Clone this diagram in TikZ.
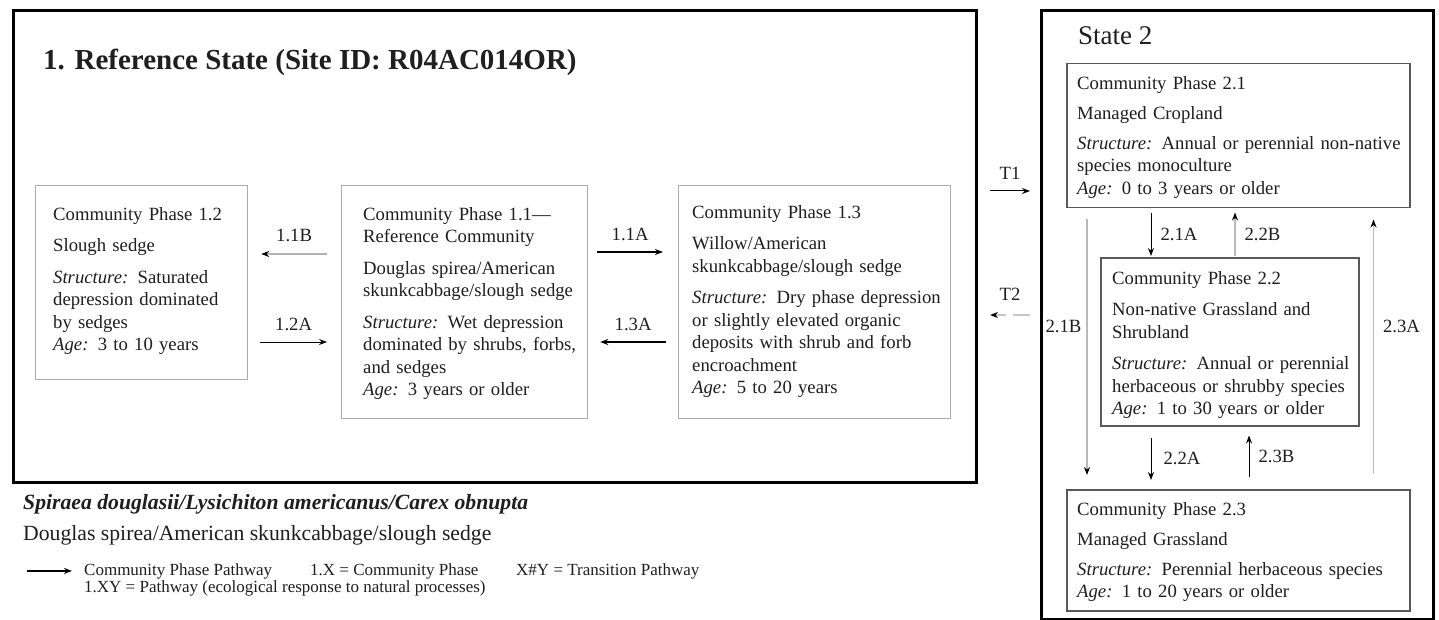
\documentclass[tikz,border=0pt]{standalone}
\usepackage{fontspec}
\setmainfont{Liberation Serif}
\usetikzlibrary{arrows.meta,calc}

\newcommand{\bodysize}{\fontsize{18.7}{22.5}\selectfont}
\newcommand{\legsize}{\fontsize{17}{17}\selectfont}

\begin{document}
\begin{tikzpicture}[
    x=1pt, y=-1pt,
    statebox/.style={
        draw=black,
        line width=3pt,
        anchor=north west,
        inner sep=0pt
    },
    phasebox/.style={draw=gray!65, line width=1.2pt, anchor=north west, inner sep=0pt},
    phaseboxtwo/.style={draw=black!65, line width=1.5pt, anchor=north west, inner sep=0pt},
    phasetext/.style={
        anchor=north west,
        inner sep=0pt,
        align=left,
        font=\bodysize,
        text=black!88
    },
    plain/.style={inner sep=0pt, text=black!88},
    lbl/.style={inner sep=0pt, font=\bodysize, text=black!88},
    pathway/.style={-{Stealth[length=8pt,width=6pt]}, line width=1pt, draw=black},
    grayway/.style={-{Stealth[length=8pt,width=6pt,color=black]}, line width=1.6pt, draw=gray!55}
]

\fill[white] (0,0) rectangle (1439,620);
\useasboundingbox (0,0) rectangle (1439,620);

% state frames
\node[statebox, minimum width=963pt, minimum height=472pt] (state1) at (12,9) {};
\node[statebox, minimum width=392pt, minimum height=609pt] (state2) at (1040,9) {};

\node[plain, anchor=base west, font=\fontsize{29}{34}\selectfont\bfseries] (title1) at (43,70)
    {1. Reference State (Site ID: R04AC014OR)};
\node[plain, anchor=base west, font=\fontsize{27}{32}\selectfont] (title2) at (1078,45) {State 2};

% reference state phases
\node[phasebox, minimum width=212pt, minimum height=194pt] (p12) at (35,185) {};
\node[phasetext, text width=190pt] (p12txt) at ($(p12.north west)+(18,22)$) {
Community Phase 1.2\\[9pt]
Slough sedge\\[9pt]
\textit{Structure:} Saturated\\
depression dominated\\
by sedges\\
\textit{Age:} 3 to 10 years
};

\node[phasebox, minimum width=246pt, minimum height=233pt] (p11) at (341,185) {};
\node[phasetext, text width=222pt] (p11txt) at ($(p11.north west)+(22,22)$) {
Community Phase 1.1—\\
Reference Community\\[9pt]
Douglas spirea/American\\
skunkcabbage/slough sedge\\[9pt]
\textit{Structure:} Wet depression\\
dominated by shrubs, forbs,\\
and sedges\\
\textit{Age:} 3 years or older
};

\node[phasebox, minimum width=272pt, minimum height=233pt] (p13) at (678,185) {};
\node[phasetext, text width=256pt] (p13txt) at ($(p13.north west)+(14,20)$) {
Community Phase 1.3\\[9pt]
Willow/American\\
skunkcabbage/slough sedge\\[9pt]
\textit{Structure:} Dry phase depression\\
or slightly elevated organic\\
deposits with shrub and forb\\
encroachment\\
\textit{Age:} 5 to 20 years
};

% state 2 phases
\node[phaseboxtwo, minimum width=343pt, minimum height=144pt] (p21) at (1066,63) {};
\node[phasetext, text width=330pt] (p21txt) at ($(p21.north west)+(11,13)$) {
Community Phase 2.1\\[7.5pt]
Managed Cropland\\[7.5pt]
\textit{Structure:} Annual or perennial non-native\\
species monoculture\\
\textit{Age:} 0 to 3 years or older
};

\node[phaseboxtwo, minimum width=258pt, minimum height=168pt] (p22) at (1100,257) {};
\node[phasetext, text width=244pt] (p22txt) at ($(p22.north west)+(12,14)$) {
Community Phase 2.2\\[9pt]
Non-native Grassland and\\
Shrubland\\[9pt]
\textit{Structure:} Annual or perennial\\
herbaceous or shrubby species\\
\textit{Age:} 1 to 30 years or older
};

\node[phaseboxtwo, minimum width=343pt, minimum height=121pt] (p23) at (1066,489) {};
\node[phasetext, text width=330pt] (p23txt) at ($(p23.north west)+(11,13)$) {
Community Phase 2.3\\[7.5pt]
Managed Grassland\\[7.5pt]
\textit{Structure:} Perennial herbaceous species\\
\textit{Age:} 1 to 20 years or older
};

% pathways in state 1
\draw[grayway, line width=2.4pt, draw=gray!60] ($(p11.north west)+(-14,69)$) -- ($(p12.north east)+(13,69)$)
    node[lbl, midway, above=11pt] (l11b) {1.1B};
\draw[pathway] ($(p12.north east)+(12,157)$) -- ($(p11.north west)+(-14,157)$)
    node[lbl, midway, above=11pt] (l12a) {1.2A};
\draw[pathway, line width=1.3pt] ($(p11.north east)+(9,67)$) -- ($(p13.north west)+(-15,67)$)
    node[lbl, midway, above=11pt] (l11a) {1.1A};
\draw[pathway, line width=1.3pt] ($(p13.north west)+(-12,157)$) -- ($(p11.north east)+(12,157)$)
    node[lbl, midway, above=11pt] (l13a) {1.3A};

% transitions
\draw[pathway] ($(state1.north east)+(12,182)$) -- ($(state2.north west)+(-10,182)$)
    node[lbl, midway, above=11pt] (lt1) {T1};
\draw[pathway, line width=1.6pt, draw=gray!45, dash pattern=on 17pt off 7pt on 40pt off 0pt,
      -{Stealth[length=8pt,width=6pt,color=black]}]
    ($(state2.north west)+(-10,306)$) -- ($(state1.north east)+(12,306)$)
    node[lbl, midway, above=14pt] (lt2) {T2};

% pathways in state 2
\draw[pathway] ($(p21.south west)+(85,5)$) -- ($(p22.north west)+(51,-1)$)
    node[lbl, midway, right=9pt] (l21a) {2.1A};
\draw[grayway, line width=1.2pt] ($(p22.north west)+(135,-1)$) -- ($(p21.south west)+(169,4)$)
    node[lbl, midway, right=9pt] (l22b) {2.2B};
\draw[grayway, line width=1.2pt] ($(p21.south west)+(21,11)$) -- ($(p23.north west)+(21,-14)$)
    node[lbl, pos=0.42, left=5pt] (l21b) {2.1B};
\draw[grayway, line width=1.2pt] ($(p23.north east)+(-37,-16)$) -- ($(p21.south east)+(-37,11)$)
    node[lbl, pos=0.58, right=9pt] (l23a) {2.3A};
\draw[pathway] ($(p22.south west)+(51,11)$) -- ($(p23.north west)+(85,-9)$)
    node[lbl, midway, right=12pt] (l22a) {2.2A};
\draw[pathway] ($(p23.north west)+(183,-12)$) -- ($(p22.south west)+(149,9)$)
    node[lbl, midway, right=9pt] (l23b) {2.3B};

% species names and legend
\node[plain, anchor=base west, font=\fontsize{21.7}{26}\selectfont\bfseries\itshape] (spname) at (23,509)
    {Spiraea douglasii/Lysichiton americanus/Carex obnupta};
\node[plain, anchor=base west, font=\fontsize{21.7}{26}\selectfont] (comname) at (23,540)
    {Douglas spirea/American skunkcabbage/slough sedge};

\node[plain, anchor=base west, font=\legsize] (leg1) at (84,575) {Community Phase Pathway};
\node[plain, anchor=base west, font=\legsize] (leg2) at (310,575) {1.X = Community Phase};
\node[plain, anchor=base west, font=\legsize] (leg3) at (516,575) {X\#Y = Transition Pathway};
\node[plain, anchor=base west, font=\legsize] (leg4) at (84,592)
    {1.XY = Pathway (ecological response to natural processes)};
\coordinate (legtail) at ($(leg1.west)+(-57,0)$);
\draw[pathway, line width=1.4pt] (legtail) -- ([xshift=-12pt]leg1.west);

\end{tikzpicture}
\end{document}
